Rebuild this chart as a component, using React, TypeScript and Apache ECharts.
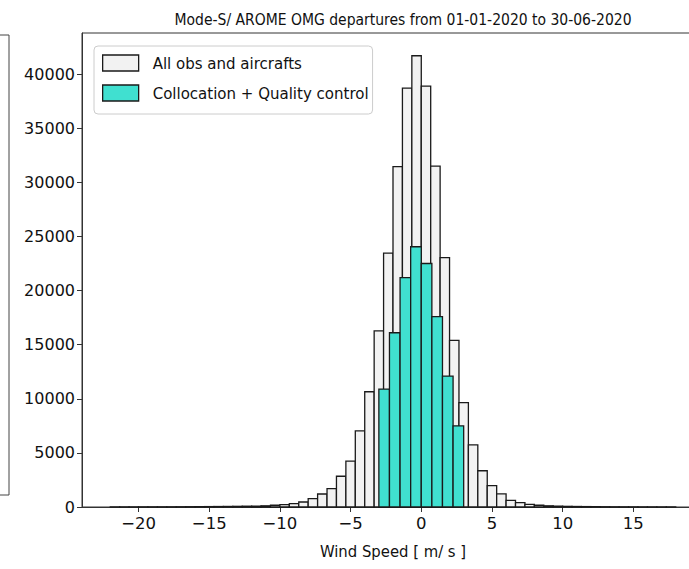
import React, { useEffect, useRef } from "react";
import * as echarts from "echarts";

// Histogram of all observations: 60 bins of width 2/3 starting at -22
const allStart = -22;
const allBinWidth = 2 / 3;
const allCounts = [
  8, 10, 12, 14, 16, 18, 20, 24, 28, 32,
  38, 45, 52, 62, 75, 90, 110, 160, 220, 310,
  460, 780, 1200, 1700, 2840, 4230, 7040, 10650, 16270, 23460,
  31450, 38700, 41700, 38900, 31500, 23050, 15400, 9650, 5740, 3350,
  1980, 1220, 610, 400, 250, 160, 110, 80, 60, 48,
  38, 30, 25, 20, 17, 14, 12, 10, 8, 6,
];

// Histogram after collocation + quality control: 8 bins of width 0.75 from -3
const qcStart = -3;
const qcBinWidth = 0.75;
const qcCounts = [10900, 16100, 21200, 24050, 22500, 17600, 12100, 7500];

const xTicks = [-20, -15, -10, -5, 0, 5, 10, 15];
const yTicks = [0, 5000, 10000, 15000, 20000, 25000, 30000, 35000, 40000];

const seriesNames = ["All obs and aircrafts", "Collocation + Quality control"];
const titleText = "Mode-S/ AROME OMG departures from 01-01-2020 to 30-06-2020";
const xName = "Wind Speed [ m/ s ]";

function toBins(start: number, width: number, counts: number[]) {
  return counts.map((c, i) => [start + i * width, start + (i + 1) * width, c]);
}

const GREY = "#f2f2f2";
const TEAL = "#40e0d0";
const EDGE = "#1a1a1a";

function makeRender(fill: string) {
  return (params: any, api: any) => {
    const x0 = api.value(0);
    const x1 = api.value(1);
    const v = api.value(2);
    const p0 = api.coord([x0, v]);
    const p1 = api.coord([x1, 0]);
    return {
      type: "rect",
      shape: { x: p0[0], y: p0[1], width: p1[0] - p0[0], height: p1[1] - p0[1] },
      style: { fill, stroke: EDGE, lineWidth: 1.3 },
    };
  };
}

export default function App() {
  const ref = useRef<HTMLDivElement>(null);
  useEffect(() => {
    if (!ref.current) return;
    const chart = echarts.init(ref.current, undefined, { renderer: "svg" });
    const condensed = "'DejaVu Sans Condensed', 'DejaVu Sans', sans-serif";
    const regular = "'DejaVu Sans', sans-serif";
    chart.setOption({
      animation: false,
      backgroundColor: "#ffffff",
      title: {
        text: titleText,
        left: 398,
        top: 7,
        textAlign: "center",
        textStyle: { fontFamily: condensed, fontSize: 15.5, fontWeight: "normal", color: "#111" },
      },
      grid: {
        left: 82,
        top: 33,
        width: 622,
        height: 474,
        containLabel: false,
        outerBoundsMode: "none",
        show: true,
        borderColor: "#333",
        borderWidth: 1,
        backgroundColor: "transparent",
      },
      legend: {
        left: 94,
        top: 46,
        orient: "vertical",
        padding: [7, 4, 11, 8],
        itemGap: 10,
        itemWidth: 36,
        itemHeight: 16,
        backgroundColor: "rgba(255,255,255,0.85)",
        borderColor: "#cccccc",
        borderWidth: 1,
        borderRadius: 4,
        textStyle: {
          fontFamily: condensed,
          fontSize: 16.7,
          color: "#111",
          lineHeight: 20,
          padding: [0, 0, 0, 9],
        },
        data: [
          { name: seriesNames[0], icon: "rect", itemStyle: { color: GREY, borderColor: EDGE, borderWidth: 1.3 } },
          { name: seriesNames[1], icon: "rect", itemStyle: { color: TEAL, borderColor: EDGE, borderWidth: 1.3 } },
        ],
      },
      xAxis: {
        type: "value",
        min: -24,
        max: 20,
        name: xName,
        nameLocation: "middle",
        nameGap: 36,
        nameTextStyle: { fontFamily: condensed, fontSize: 16.5, color: "#111" },
        axisLine: { show: true, onZero: false, lineStyle: { color: "#333", width: 1 } },
        axisTick: { show: true, length: 5, customValues: xTicks, lineStyle: { color: "#333" } },
        axisLabel: {
          customValues: xTicks,
          fontFamily: regular,
          fontSize: 16.5,
          color: "#111",
          margin: 8,
          formatter: (v: number) => (v < 0 ? "\u2212" + Math.abs(v) : String(v)),
        },
        splitLine: { show: false },
      },
      yAxis: {
        type: "value",
        min: 0,
        max: 43800,
        axisLine: { show: true, onZero: false, lineStyle: { color: "#333", width: 1 } },
        axisTick: { show: true, length: 5, customValues: yTicks, lineStyle: { color: "#333" } },
        axisLabel: {
          customValues: yTicks,
          fontFamily: regular,
          fontSize: 16,
          color: "#111",
          margin: 7,
          formatter: (v: number) => String(v),
        },
        splitLine: { show: false },
      },
      graphic: [
        {
          type: "polyline",
          shape: { points: [[0, 35], [9, 35], [9, 495], [0, 495]] },
          style: { stroke: "#444", lineWidth: 1, fill: "none" },
          silent: true,
        },
      ],
      series: [
        {
          name: seriesNames[0],
          type: "custom",
          renderItem: makeRender(GREY),
          itemStyle: { color: GREY, borderColor: EDGE, borderWidth: 1.3 },
          encode: { x: [0, 1], y: 2 },
          data: toBins(allStart, allBinWidth, allCounts),
          z: 2,
        },
        {
          name: seriesNames[1],
          type: "custom",
          renderItem: makeRender(TEAL),
          itemStyle: { color: TEAL, borderColor: EDGE, borderWidth: 1.3 },
          encode: { x: [0, 1], y: 2 },
          data: toBins(qcStart, qcBinWidth, qcCounts),
          z: 3,
        },
      ],
    });
    return () => chart.dispose();
  }, []);
  return (
    <div
      ref={ref}
      style={{ position: "fixed", left: 0, top: 0, width: 689, height: 569 }}
    />
  );
}
